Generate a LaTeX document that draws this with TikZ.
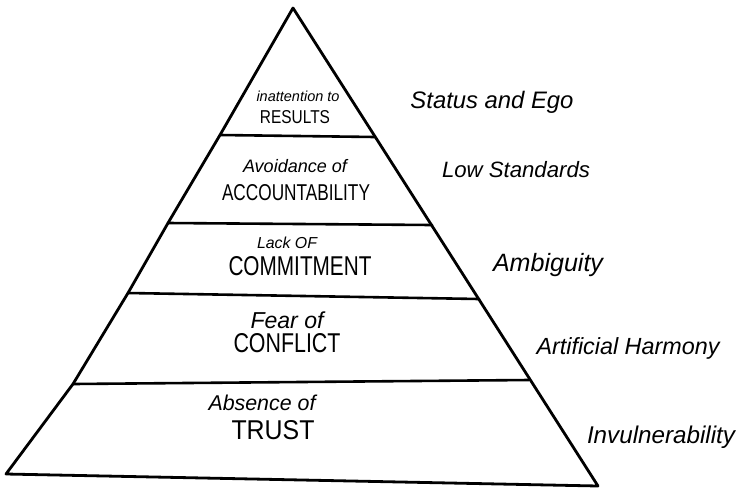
\documentclass[tikz,border=0pt]{standalone}
\usepackage{fontspec}
\setmainfont{Liberation Sans}
\usepackage{graphicx}
\newcommand{\hwW}[2]{\resizebox{#1pt}{!}{#2}}
\newcommand{\hwWH}[3]{\resizebox{#1pt}{#2pt}{#3}}
\begin{document}
\begin{tikzpicture}[x=1pt,y=-1pt,
  edge/.style={line width=2.8pt,line cap=round,line join=round},
  layer/.style={line width=2.6pt,line cap=round},
  lbl/.style={inner sep=0pt,text=black},
  side/.style={inner sep=0pt,text=black,font=\itshape}]
\fill[white] (0,0) rectangle (738,488);
\useasboundingbox (0,0) rectangle (738,488);
% outline coordinates
\coordinate (A) at (293,8);
\coordinate (L1) at (220,135);
\coordinate (L2) at (168,223);
\coordinate (L3) at (128,293);
\coordinate (L4) at (73,384);
\coordinate (L5) at (6,474);
\coordinate (R1) at (375,137);
\coordinate (R2) at (432,225);
\coordinate (R3) at (479,299);
\coordinate (R4) at (529,380);
\coordinate (R5) at (598,486);
% pyramid
\draw[edge] (L5) -- (L4) -- (L3) -- (L2) -- (L1) -- (A) -- (R5) -- cycle;
\draw[layer] (L1) -- (R1);
\draw[layer] (L2) -- (R2);
\draw[layer] (L3) -- (R3);
\draw[layer] (L4) -- (R4);
% layer texts
\node[lbl,font=\itshape] (t1a) at (298,96) {\hwW{83}{inattention to}};
\node[lbl] (t1b) at (295,117) {\hwWH{70}{13}{RESULTS}};
\node[lbl,font=\itshape] (t2a) at (295,166) {\hwW{104}{Avoidance of}};
\node[lbl] (t2b) at (296,193) {\hwWH{148}{16}{ACCOUNTABILITY}};
\node[lbl,font=\itshape] (t3a) at (287,243) {\hwW{60}{Lack OF}};
\node[lbl] (t3b) at (300,266) {\hwWH{143}{19}{COMMITMENT}};
\node[lbl,font=\itshape] (t4a) at (287,320) {\hwW{73}{Fear of}};
\node[lbl] (t4b) at (287,343) {\hwWH{107}{19}{CONFLICT}};
\node[lbl,font=\itshape] (t5a) at (262,403) {\hwW{107}{Absence of}};
\node[lbl] (t5b) at (273,430) {\hwWH{83}{19}{TRUST}};
% side labels
\node[side] (s1) at (492,102) {\hwW{163}{Status and Ego}};
\node[side] (s2) at (516,170) {\hwW{148}{Low Standards}};
\node[side] (s3) at (548,265) {\hwW{110}{Ambiguity}};
\node[side] (s4) at (628,348) {\hwW{183}{Artificial Harmony}};
\node[side] (s5) at (661,437) {\hwW{148}{Invulnerability}};
\end{tikzpicture}
\end{document}
